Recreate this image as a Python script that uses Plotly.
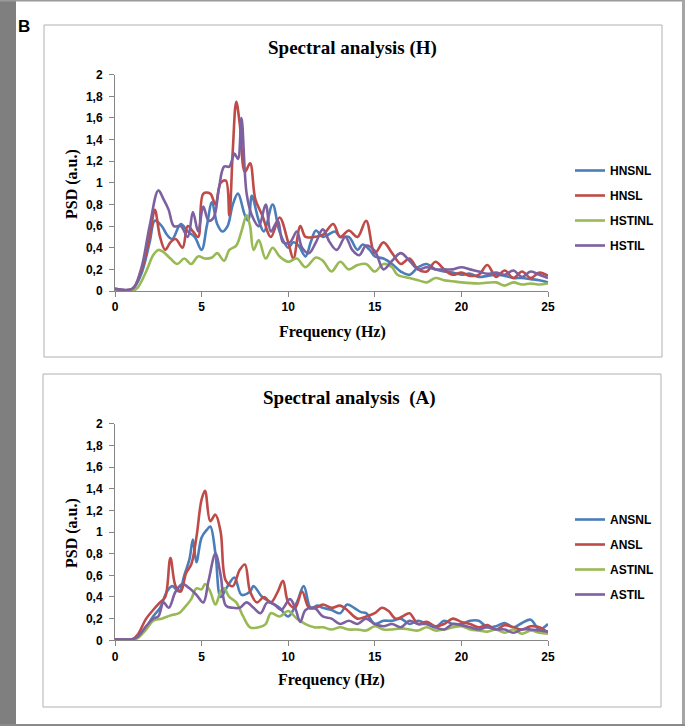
import plotly.graph_objects as go

# ---------------- data: top panel (H) ----------------
hnsnl_x = [0, 1, 1.5, 2, 2.3, 2.7, 3, 3.3, 3.8, 4.2, 4.6, 5, 5.3, 5.6, 5.9, 6.2, 6.5, 6.8, 7.1, 7.5, 7.7, 7.9,
           8.3, 8.6, 9.1, 9.5, 10, 10.3, 10.6, 11, 11.3, 11.6, 12, 12.3, 12.7, 13, 13.5, 14, 14.3, 14.7, 15, 15.5,
           16, 16.5, 17, 17.5, 18, 18.5, 19, 19.5, 20, 20.5, 21, 21.5, 22, 22.5, 23, 23.5, 24, 24.5, 25]
hnsnl_y = [0.02, 0.02, 0.15, 0.45, 0.65, 0.6, 0.52, 0.48, 0.62, 0.55, 0.5, 0.38, 0.6, 0.82, 0.62, 0.55, 0.6, 0.8, 0.9, 0.7, 0.65, 0.88,
           0.65, 0.55, 0.8, 0.55, 0.4, 0.45, 0.42, 0.32, 0.45, 0.56, 0.5, 0.52, 0.55, 0.5, 0.5, 0.38, 0.43, 0.38, 0.32, 0.3,
           0.25, 0.18, 0.15, 0.22, 0.25, 0.2, 0.18, 0.17, 0.15, 0.16, 0.13, 0.14, 0.15, 0.14, 0.12, 0.12, 0.11, 0.1, 0.08]

hnsl_x = [0, 1, 1.5, 2, 2.3, 2.6, 2.9, 3.2, 3.5, 3.9, 4.2, 4.5, 4.8, 5.1, 5.5, 5.8, 6.1, 6.4, 6.6, 6.8, 7.0, 7.2, 7.5,
          7.8, 8.1, 8.5, 9, 9.5, 10, 10.3, 10.7, 11, 11.5, 12, 12.6, 13, 13.5, 14, 14.5, 15, 15.5, 16, 16.5, 17,
          17.5, 18, 18.5, 19, 19.5, 20, 20.5, 21, 21.5, 22, 22.5, 23, 23.5, 24, 24.5, 25]
hnsl_y = [0.02, 0.02, 0.18, 0.5, 0.75, 0.5, 0.38, 0.45, 0.48, 0.4, 0.6, 0.55, 0.5, 0.9, 0.9, 0.8, 1.0, 1.02, 0.7, 1.3, 1.75, 1.55, 1.1,
          1.18, 0.85, 0.7, 0.5, 0.68, 0.45, 0.3, 0.6, 0.5, 0.5, 0.52, 0.62, 0.5, 0.56, 0.5, 0.65, 0.35, 0.45, 0.35, 0.25, 0.3,
          0.2, 0.18, 0.27, 0.2, 0.15, 0.17, 0.14, 0.15, 0.24, 0.13, 0.19, 0.12, 0.18, 0.12, 0.17, 0.14]

hstinl_x = [0, 1, 1.3, 1.8, 2.2, 2.5, 2.8, 3.2, 3.6, 4, 4.4, 4.8, 5.2, 5.6, 5.9, 6.3, 6.6, 7, 7.3, 7.6, 7.8, 8,
            8.3, 8.7, 9.1, 9.5, 10, 10.5, 11, 11.6, 12, 12.5, 13, 13.5, 14, 14.5, 15, 15.5, 16, 16.3, 17, 17.5,
            18, 18.5, 19, 19.5, 20, 21, 22, 22.5, 23, 23.5, 24, 24.5, 25]
hstinl_y = [0.0, 0.0, 0.03, 0.18, 0.33, 0.38, 0.36, 0.3, 0.25, 0.3, 0.25, 0.32, 0.3, 0.31, 0.35, 0.28, 0.38, 0.42, 0.55, 0.7, 0.6, 0.38,
            0.47, 0.3, 0.4, 0.32, 0.27, 0.3, 0.22, 0.31, 0.28, 0.18, 0.27, 0.2, 0.24, 0.25, 0.18, 0.25, 0.22, 0.15, 0.12, 0.1,
            0.08, 0.12, 0.1, 0.09, 0.08, 0.07, 0.08, 0.05, 0.08, 0.06, 0.07, 0.06, 0.07]

hstil_x = [0, 1, 1.5, 2, 2.5, 2.8, 3.1, 3.4, 3.8, 4.2, 4.5, 4.8, 5.1, 5.4, 5.7, 6, 6.3, 6.6, 6.9, 7.1, 7.3, 7.6,
           7.9, 8.3, 8.7, 9, 9.4, 9.7, 10.1, 10.5, 10.8, 11.2, 11.6, 12, 12.4, 12.8, 13.3, 13.7, 14.1, 14.5, 15,
           15.5, 16, 16.5, 17, 17.5, 18, 18.5, 19, 19.5, 20, 20.5, 21, 21.5, 22, 22.5, 23, 23.5, 24, 24.5, 25]
hstil_y = [0.02, 0.02, 0.2, 0.6, 0.93, 0.85, 0.75, 0.6, 0.6, 0.5, 0.73, 0.55, 0.78, 0.65, 0.68, 0.95, 1.15, 1.15, 1.27, 1.22, 1.6, 0.9,
           0.7, 0.6, 0.8, 0.55, 0.65, 0.45, 0.45, 0.55, 0.4, 0.35, 0.45, 0.57, 0.45, 0.38, 0.5, 0.38, 0.33, 0.42, 0.37,
           0.2, 0.28, 0.35, 0.28, 0.2, 0.22, 0.2, 0.2, 0.2, 0.22, 0.2, 0.18, 0.16, 0.17, 0.15, 0.19, 0.13, 0.18, 0.15, 0.12]

# ---------------- data: bottom panel (A) ----------------
ansnl_x = [0, 1, 1.3, 1.8, 2.2, 2.6, 3, 3.3, 3.7, 4, 4.3, 4.5, 4.7, 5, 5.3, 5.5, 5.8, 6.1, 6.5, 6.9, 7.3, 7.8,
           8, 8.5, 9, 9.5, 10, 10.5, 10.9, 11.3, 11.7, 12, 12.5, 13, 13.4, 13.8, 14.2, 14.5, 15, 15.5, 16, 16.5,
           17, 17.5, 18, 18.5, 19, 19.5, 20, 20.5, 21, 21.5, 22, 22.5, 23, 23.5, 24, 24.5, 25]
ansnl_y = [0.01, 0.01, 0.03, 0.12, 0.22, 0.3, 0.45, 0.5, 0.45, 0.6, 0.75, 0.93, 0.72, 0.95, 1.02, 1.05, 0.8, 0.4, 0.5, 0.58, 0.42, 0.45,
           0.5, 0.4, 0.35, 0.3, 0.22, 0.35, 0.5, 0.3, 0.32, 0.3, 0.28, 0.25, 0.33, 0.3, 0.26, 0.25, 0.15, 0.18, 0.18, 0.2,
           0.15, 0.18, 0.15, 0.12, 0.18, 0.15, 0.15, 0.18, 0.18, 0.12, 0.13, 0.16, 0.12, 0.16, 0.19, 0.1, 0.15]

ansl_x = [0, 1, 1.3, 1.8, 2.2, 2.6, 2.9, 3.2, 3.5, 3.8, 4.1, 4.4, 4.7, 5.0, 5.2, 5.5, 5.8, 6.1, 6.4, 6.8, 7.2, 7.5,
          7.8, 8.2, 8.6, 9, 9.4, 9.7, 10, 10.4, 10.8, 11.2, 11.6, 12, 12.5, 13, 13.4, 14, 14.5, 15, 15.4, 15.8,
          16.2, 16.6, 17, 17.5, 18, 18.5, 19, 19.5, 20, 20.5, 21, 21.5, 22, 22.5, 23, 23.5, 24, 24.5, 25]
ansl_y = [0.01, 0.01, 0.05, 0.2, 0.28, 0.35, 0.4, 0.76, 0.5, 0.45, 0.62, 0.7, 0.95, 1.3, 1.38, 1.1, 1.16, 1.0, 0.55, 0.5, 0.65, 0.7,
          0.45, 0.35, 0.4, 0.35, 0.45, 0.55, 0.35, 0.3, 0.45, 0.3, 0.3, 0.33, 0.3, 0.32, 0.28, 0.2, 0.22, 0.25, 0.3, 0.27,
          0.2, 0.22, 0.25, 0.15, 0.17, 0.13, 0.15, 0.2, 0.17, 0.15, 0.12, 0.14, 0.1, 0.14, 0.12, 0.1, 0.13, 0.12, 0.07]

astinl_x = [0, 1, 1.3, 1.8, 2.2, 2.7, 3.2, 3.7, 4, 4.4, 4.7, 5.0, 5.2, 5.5, 5.8, 6.1, 6.3, 6.6, 7, 7.4, 7.8, 8.3,
            8.7, 9, 9.5, 10, 10.5, 11, 11.5, 12, 12.5, 13, 13.5, 14, 14.5, 15, 15.5, 16, 16.5, 17, 17.5, 18,
            18.5, 19, 19.5, 20, 20.5, 21, 21.5, 22, 22.5, 23, 23.5, 24, 24.5, 25]
astinl_y = [0.0, 0.0, 0.02, 0.1, 0.18, 0.2, 0.23, 0.25, 0.3, 0.38, 0.48, 0.47, 0.52, 0.45, 0.33, 0.45, 0.48, 0.4, 0.35, 0.22, 0.12, 0.12,
            0.15, 0.25, 0.22, 0.27, 0.2, 0.15, 0.12, 0.12, 0.1, 0.12, 0.1, 0.1, 0.09, 0.13, 0.1, 0.1, 0.11, 0.1, 0.09, 0.12,
            0.09, 0.1, 0.12, 0.13, 0.1, 0.09, 0.08, 0.1, 0.07, 0.1, 0.06, 0.09, 0.07, 0.06]

astil_x = [0, 1, 1.3, 1.8, 2.2, 2.5, 2.8, 3.1, 3.5, 3.9, 4.3, 4.7, 5.1, 5.4, 5.8, 6.1, 6.4, 6.8, 7.2, 7.6, 8, 8.4,
           8.8, 9.2, 9.6, 10.1, 10.4, 10.7, 11, 11.5, 12, 12.5, 13, 13.5, 14, 14.5, 15, 15.5, 16, 16.5, 17, 17.5,
           18, 18.5, 19, 19.5, 20, 20.5, 21, 21.5, 22, 22.5, 23, 23.5, 24, 24.5, 25]
astil_y = [0.01, 0.01, 0.03, 0.13, 0.2, 0.22, 0.35, 0.3, 0.45, 0.52, 0.48, 0.42, 0.35, 0.55, 0.8, 0.6, 0.32, 0.3, 0.3, 0.35, 0.3, 0.25,
           0.35, 0.33, 0.28, 0.38, 0.3, 0.17, 0.28, 0.3, 0.22, 0.2, 0.15, 0.18, 0.15, 0.2, 0.15, 0.13, 0.15, 0.12, 0.18, 0.15,
           0.15, 0.12, 0.1, 0.15, 0.14, 0.12, 0.1, 0.12, 0.1, 0.1, 0.07, 0.1, 0.1, 0.09, 0.08]

top_names = ["HNSNL", "HNSL", "HSTINL", "HSTIL"]
bot_names = ["ANSNL", "ANSL", "ASTINL", "ASTIL"]
y_ticks = [0, 0.2, 0.4, 0.6, 0.8, 1, 1.2, 1.4, 1.6, 1.8, 2]
y_tick_text = ["0", "0,2", "0,4", "0,6", "0,8", "1", "1,2", "1,4", "1,6", "1,8", "2"]
x_ticks = [0, 5, 10, 15, 20, 25]

colors = ["#4a7ebb", "#be4b48", "#98b954", "#7d60a0"]

W, H = 685, 726
def px(x):
    return x / W
def py(y):
    return 1 - y / H

fig = go.Figure()

top_series = [(hnsnl_x, hnsnl_y), (hnsl_x, hnsl_y), (hstinl_x, hstinl_y), (hstil_x, hstil_y)]
bot_series = [(ansnl_x, ansnl_y), (ansl_x, ansl_y), (astinl_x, astinl_y), (astil_x, astil_y)]

for i, (name, (xs, ys)) in enumerate(zip(top_names, top_series)):
    fig.add_trace(go.Scatter(x=xs, y=ys, name="<b>%s</b>" % name, mode="lines",
                             line=dict(color=colors[i], width=2.6, shape="spline", smoothing=1.0),
                             xaxis="x", yaxis="y", legend="legend", legendgroup="t%d" % i))
for i, (name, (xs, ys)) in enumerate(zip(bot_names, bot_series)):
    fig.add_trace(go.Scatter(x=xs, y=ys, name="<b>%s</b>" % name, mode="lines",
                             line=dict(color=colors[i], width=2.6, shape="spline", smoothing=1.0),
                             xaxis="x2", yaxis="y2", legend="legend2", legendgroup="b%d" % i))

sans = "Liberation Sans Narrow, Arial Narrow, Liberation Sans, Arial"
tick_font = dict(family=sans, size=12, color="#000000", weight="bold")
title_font = dict(family="Liberation Serif, Times New Roman, serif", size=19, color="#000000")
axis_title_font = dict(family="Liberation Serif, Times New Roman, serif", size=16, color="#000000")
legend_font = dict(family=sans, size=12, color="#000000")

xdom = [px(115), px(548)]
axis_common = dict(showgrid=False, zeroline=False, showline=True, linecolor="#868686", linewidth=1,
                   ticks="outside", ticklen=5, tickcolor="#868686", tickfont=tick_font, automargin=False)

fig.update_layout(
    width=W, height=H,
    margin=dict(l=0, r=0, t=0, b=0),
    paper_bgcolor="white", plot_bgcolor="white",
    xaxis=dict(domain=xdom, range=[0, 25], tickvals=x_ticks, anchor="y", **axis_common),
    yaxis=dict(domain=[py(291), py(74.7)], range=[0, 2], tickvals=y_ticks, ticktext=y_tick_text,
               anchor="x", ticklabelstandoff=4, **axis_common),
    xaxis2=dict(domain=xdom, range=[0, 25], tickvals=x_ticks, anchor="y2", **axis_common),
    yaxis2=dict(domain=[py(640.3), py(423.7)], range=[0, 2], tickvals=y_ticks, ticktext=y_tick_text,
                anchor="x2", ticklabelstandoff=4, **axis_common),
    legend=dict(x=px(570), y=py(208), xanchor="left", yanchor="middle", tracegroupgap=6,
                font=legend_font, itemwidth=30, bgcolor="rgba(0,0,0,0)"),
    legend2=dict(x=px(570), y=py(557), xanchor="left", yanchor="middle", tracegroupgap=6,
                 font=legend_font, itemwidth=30, bgcolor="rgba(0,0,0,0)"),
    showlegend=True,
)

shapes = [
    # gray frame around the figure
    dict(type="rect", xref="paper", yref="paper", x0=0, x1=px(16), y0=0, y1=1, fillcolor="#7f7f7f", line=dict(width=0), layer="below"),
    dict(type="rect", xref="paper", yref="paper", x0=0, x1=1, y0=py(1.5), y1=1, fillcolor="#9a9a9a", line=dict(width=0), layer="below"),
    dict(type="rect", xref="paper", yref="paper", x0=px(682), x1=1, y0=0, y1=1, fillcolor="#a5a5a5", line=dict(width=0), layer="below"),
    dict(type="rect", xref="paper", yref="paper", x0=0, x1=1, y0=0, y1=py(724), fillcolor="#8a8a8a", line=dict(width=0), layer="below"),
    # panel borders
    dict(type="rect", xref="paper", yref="paper", x0=px(44), x1=px(662), y0=py(357), y1=py(25),
         line=dict(color="#b0b0b0", width=1), fillcolor="rgba(0,0,0,0)", layer="below"),
    dict(type="rect", xref="paper", yref="paper", x0=px(43), x1=px(661), y0=py(707), y1=py(374),
         line=dict(color="#b0b0b0", width=1), fillcolor="rgba(0,0,0,0)", layer="below"),
]

annotations = [
    dict(text="<b>B</b>", x=px(16), y=py(27), xref="paper", yref="paper", xanchor="left", yanchor="middle",
         showarrow=False, font=dict(family="Liberation Sans, Arial", size=17, color="#000")),
    dict(text="<b>Spectral analysis (H)</b>", x=px(352), y=py(48), xref="paper", yref="paper",
         xanchor="center", yanchor="middle", showarrow=False, font=title_font),
    dict(text="<b>Spectral analysis  (A)</b>", x=px(349), y=py(398), xref="paper", yref="paper",
         xanchor="center", yanchor="middle", showarrow=False, font=title_font),
    dict(text="<b>PSD (a.u.)</b>", x=px(72), y=py(184), xref="paper", yref="paper", textangle=-90,
         xanchor="center", yanchor="middle", showarrow=False, font=axis_title_font),
    dict(text="<b>PSD (a.u.)</b>", x=px(72), y=py(533), xref="paper", yref="paper", textangle=-90,
         xanchor="center", yanchor="middle", showarrow=False, font=axis_title_font),
    dict(text="<b>Frequency (Hz)</b>", x=px(332), y=py(332), xref="paper", yref="paper",
         xanchor="center", yanchor="middle", showarrow=False, font=axis_title_font),
    dict(text="<b>Frequency (Hz)</b>", x=px(331), y=py(680), xref="paper", yref="paper",
         xanchor="center", yanchor="middle", showarrow=False, font=axis_title_font),
]

fig.update_layout(shapes=shapes, annotations=annotations)

fig.write_html("out.html", config={"displayModeBar": False},
               post_script="document.body.style.margin='0px';document.body.style.overflow='hidden';")
